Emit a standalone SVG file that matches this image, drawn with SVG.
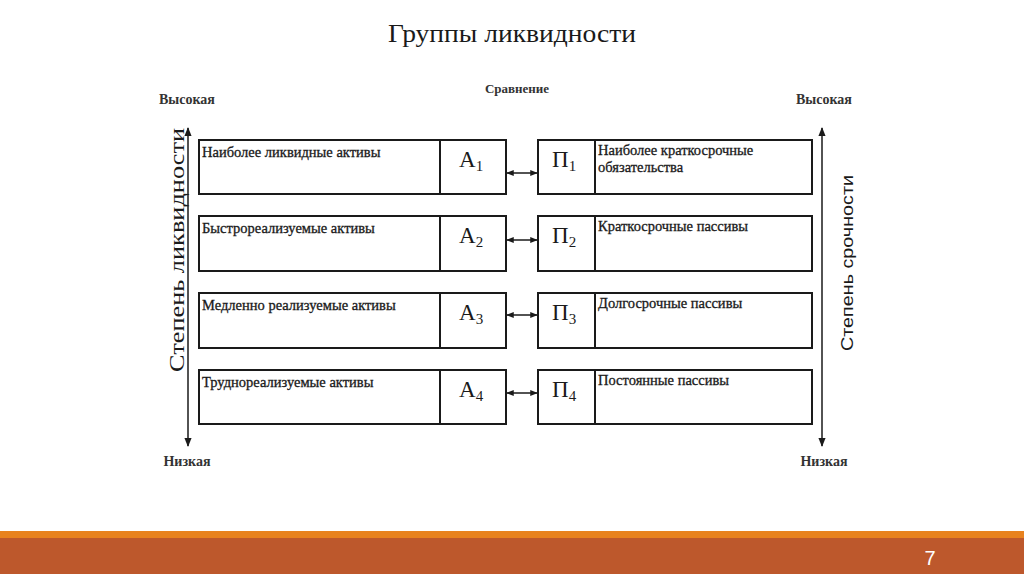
<svg xmlns="http://www.w3.org/2000/svg" width="1024" height="574" viewBox="0 0 1024 574">
<defs>
<marker id="ah" viewBox="0 0 10 10" refX="9" refY="5" markerWidth="5" markerHeight="5" orient="auto-start-reverse"><path d="M0,1 L10,5 L0,9 z" fill="#1a1a1a"/></marker>
<marker id="ahs" viewBox="0 0 10 10" refX="9" refY="5" markerWidth="6" markerHeight="6" orient="auto-start-reverse"><path d="M0,1 L10,5 L0,9 z" fill="#1a1a1a"/></marker>
</defs>
<style>
.box{fill:#fff;stroke:#1a1a1a;stroke-width:2}
.serif{font-family:"Liberation Serif","DejaVu Serif",serif;fill:#1a1a1a}
.sans{font-family:"Liberation Sans",Arial,sans-serif;fill:#1a1a1a}
.lbl{font-family:"Liberation Serif",serif;font-size:14.5px;fill:#1a1a1a;stroke:#1a1a1a;stroke-width:0.3}
.sym{font-family:"Liberation Serif",serif;font-size:23px;fill:#1a1a1a}
.sub{font-size:15px}
.ax{font-family:"Liberation Serif",serif;font-size:14px;font-weight:bold;fill:#333}
.con{stroke:#1a1a1a;stroke-width:1.5;fill:none}
</style>
<rect width="1024" height="574" fill="#fff"/>
<text class="serif" x="512" y="42" text-anchor="middle" font-size="25" textLength="248" lengthAdjust="spacingAndGlyphs">Группы ликвидности</text>
<text class="ax" x="517" y="93" text-anchor="middle" style="font-size:13px">Сравнение</text>
<text class="ax" x="187" y="104" text-anchor="middle">Высокая</text>
<text class="ax" x="824" y="104" text-anchor="middle">Высокая</text>
<text class="ax" x="187" y="466" text-anchor="middle">Низкая</text>
<text class="ax" x="824" y="466" text-anchor="middle">Низкая</text>
<text class="serif" transform="translate(184,250) rotate(-90)" text-anchor="middle" font-size="21" textLength="244" lengthAdjust="spacingAndGlyphs">Степень ликвидности</text>
<text class="sans" transform="translate(853,263) rotate(-90)" text-anchor="middle" font-size="17" textLength="176" lengthAdjust="spacingAndGlyphs">Степень срочности</text>
<g id="connectors">
<line class="con" x1="188" y1="446" x2="188" y2="128" marker-end="url(#ahs)" marker-start="url(#ahs)"/>
<line class="con" x1="822" y1="446" x2="822" y2="128" marker-end="url(#ahs)" marker-start="url(#ahs)"/>
<line class="con" x1="507" y1="173" x2="537" y2="173" marker-end="url(#ah)" marker-start="url(#ah)"/>
<line class="con" x1="507" y1="240" x2="537" y2="240" marker-end="url(#ah)" marker-start="url(#ah)"/>
<line class="con" x1="507" y1="315" x2="537" y2="315" marker-end="url(#ah)" marker-start="url(#ah)"/>
<line class="con" x1="507" y1="393" x2="537" y2="393" marker-end="url(#ah)" marker-start="url(#ah)"/>
</g>
<g id="a1"><rect class="box" x="199" y="140" width="307" height="54"/><line class="con" style="stroke-width:2" x1="440" y1="140" x2="440" y2="194"/><text class="lbl" x="202" y="157">Наиболее ликвидные активы</text><text class="sym" x="459" y="167">А<tspan class="sub" dy="4">1</tspan></text></g>
<g id="a2"><rect class="box" x="199" y="216" width="307" height="55"/><line class="con" style="stroke-width:2" x1="440" y1="216" x2="440" y2="271"/><text class="lbl" x="202" y="233">Быстрореализуемые активы</text><text class="sym" x="459" y="243">А<tspan class="sub" dy="4">2</tspan></text></g>
<g id="a3"><rect class="box" x="199" y="293" width="307" height="55"/><line class="con" style="stroke-width:2" x1="440" y1="293" x2="440" y2="348"/><text class="lbl" x="202" y="310">Медленно реализуемые активы</text><text class="sym" x="459" y="320">А<tspan class="sub" dy="4">3</tspan></text></g>
<g id="a4"><rect class="box" x="199" y="370" width="307" height="54"/><line class="con" style="stroke-width:2" x1="440" y1="370" x2="440" y2="424"/><text class="lbl" x="202" y="387">Труднореализуемые активы</text><text class="sym" x="459" y="397">А<tspan class="sub" dy="4">4</tspan></text></g>
<g id="p1"><rect class="box" x="538" y="140" width="274" height="54"/><line class="con" style="stroke-width:2" x1="595" y1="140" x2="595" y2="194"/><text class="lbl" x="598" y="155">Наиболее краткосрочные</text><text class="lbl" x="598" y="172">обязательства</text><text class="sym" x="552" y="167">П<tspan class="sub" dy="4">1</tspan></text></g>
<g id="p2"><rect class="box" x="538" y="216" width="274" height="55"/><line class="con" style="stroke-width:2" x1="595" y1="216" x2="595" y2="271"/><text class="lbl" x="598" y="231">Краткосрочные пассивы</text><text class="sym" x="552" y="243">П<tspan class="sub" dy="4">2</tspan></text></g>
<g id="p3"><rect class="box" x="538" y="293" width="274" height="55"/><line class="con" style="stroke-width:2" x1="595" y1="293" x2="595" y2="348"/><text class="lbl" x="598" y="308">Долгосрочные пассивы</text><text class="sym" x="552" y="320">П<tspan class="sub" dy="4">3</tspan></text></g>
<g id="p4"><rect class="box" x="538" y="370" width="274" height="54"/><line class="con" style="stroke-width:2" x1="595" y1="370" x2="595" y2="424"/><text class="lbl" x="598" y="385">Постоянные пассивы</text><text class="sym" x="552" y="397">П<tspan class="sub" dy="4">4</tspan></text></g>
<rect x="0" y="531" width="1024" height="7" fill="#E8821E"/>
<rect x="0" y="538" width="1024" height="36" fill="#BD582C"/>
<text x="930" y="565" text-anchor="middle" font-family="Liberation Sans,sans-serif" font-size="20" fill="#fff">7</text>
</svg>
